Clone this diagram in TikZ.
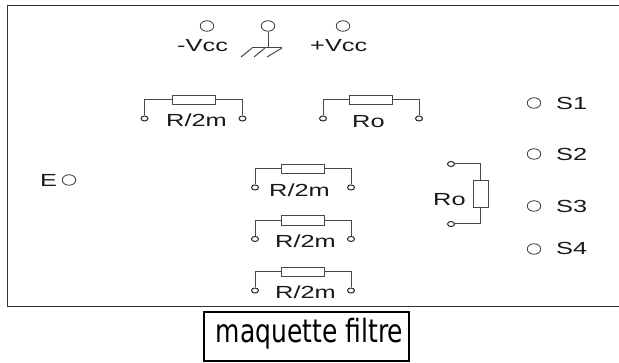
\documentclass[tikz,border=0pt]{standalone}
\usepackage{fontspec}
\usepackage{graphicx}
\setmainfont{Liberation Sans}
\newfontfamily\lblfont[FakeStretch=1.45]{Liberation Sans}
\newfontfamily\boxfont{DejaVu Sans}
\usetikzlibrary{shapes.geometric}
\tikzset{
  lbl/.style={anchor=base west,inner sep=0pt,font=\lblfont\fontsize{17.5}{17.5}\selectfont,text=black!90},
  wire/.style={draw=black!72,line width=1pt},
  res/.style={draw=black!72,line width=1pt,rectangle,inner sep=0pt,minimum width=43pt,minimum height=9.5pt},
  vres/.style={draw=black!72,line width=1pt,rectangle,inner sep=0pt,minimum width=15pt,minimum height=27pt},
  term/.style={draw=black!85,line width=1pt,ellipse,inner sep=0pt,minimum width=7pt,minimum height=5pt},
  pad/.style={draw=black!80,line width=0.8pt,ellipse,inner sep=0pt,minimum width=13.5pt,minimum height=10.5pt}
}
\newcommand{\hres}[4]{%
  \node[res] (#1) at (#2,#3) {};
  \node[term] (#1a) at (#2-#4,#3+18.5) {};
  \node[term] (#1b) at (#2+#4,#3+18.5) {};
  \draw[wire] (#1a.north) |- (#1.west);
  \draw[wire] (#1b.north) |- (#1.east);
}
\begin{document}
\begin{tikzpicture}[x=1pt,y=-1pt]
\useasboundingbox (0,0) rectangle (619,363);
\draw[black!80,line width=1pt] (619,5.5) -- (7,5.5) -- (7,306.5) -- (619,306.5);
\node[draw=black,line width=2.4pt,rectangle,minimum width=205pt,minimum height=49pt,inner sep=0pt] (box) at (306.5,336.5) {};
\node[anchor=base,inner sep=0pt,font=\boxfont\fontsize{25}{25}\selectfont] (title) at (309.5,343) {\scalebox{1}[1.28]{maquette filtre}};
% supply
\node[pad] (vm) at (207,26) {};
\node[pad] (gnd) at (268,26) {};
\node[pad] (vp) at (343,26) {};
\node[lbl] (lvm) at (177,52) {-Vcc};
\node[lbl] (lvp) at (310,52) {+Vcc};
\coordinate (g) at (268,48);
\coordinate (ga) at (252,48);
\coordinate (gb) at (282,48);
\draw[wire] (gnd) -- (g);
\draw[wire] (ga) -- (gb);
\draw[wire] (ga) -- (241,57);
\draw[wire] (265,48) -- (254,57);
\draw[wire] (gb) -- (267,57);
% horizontal resistors
\hres{r1}{193.5}{100}{49}
\hres{r2}{371}{100}{48}
\hres{r3}{303}{169}{48}
\hres{r4}{303}{220.5}{48}
\hres{r5}{303}{272}{48}
\node[lbl] at (166,127) {R/2m};
\node[lbl] at (352,128) {Ro};
\node[lbl] at (269,197) {R/2m};
\node[lbl] at (275,248) {R/2m};
\node[lbl] at (275,299) {R/2m};
% vertical resistor
\node[vres] (r6) at (480.5,194.5) {};
\node[term] (r6a) at (451,164) {};
\node[term] (r6b) at (451,224) {};
\draw[wire] (r6a.east) -| (r6.north);
\draw[wire] (r6b.east) -| (r6.south);
\node[lbl] at (433,206) {Ro};
% outputs
\node[pad] (s1) at (534,103) {};
\node[pad] (s2) at (534,154) {};
\node[pad] (s3) at (534,206) {};
\node[pad] (s4) at (534,249) {};
\node[lbl] at (556,110) {S1};
\node[lbl] at (556,161) {S2};
\node[lbl] at (556,213) {S3};
\node[lbl] at (556,255) {S4};
% input
\node[pad] (e) at (69,180) {};
\node[lbl] at (40,187) {E};
\end{tikzpicture}
\end{document}
